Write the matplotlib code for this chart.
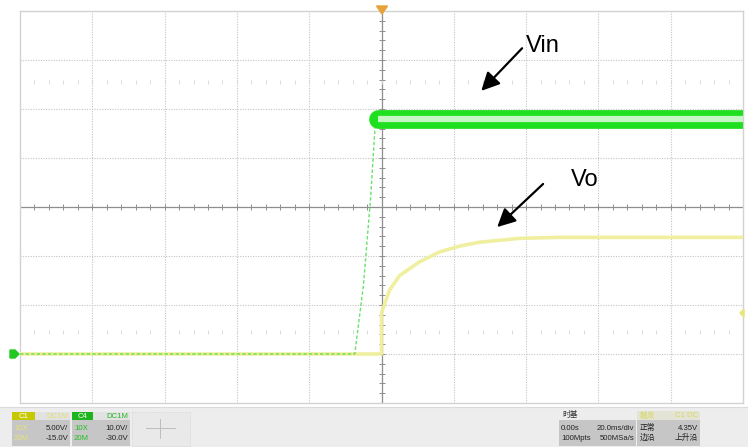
"""Oscilloscope capture: Vin step (C4) and Vo response (C1)."""
import matplotlib
matplotlib.use("Agg")
import matplotlib.pyplot as plt
import numpy as np
from matplotlib.patches import Rectangle, Polygon

plt.rcParams["font.family"] = ["Liberation Sans", "Noto Sans CJK SC", "DejaVu Sans"]

# ---------------------------------------------------------------- data
TIME_DIV_MS = 20.0          # 20.0 ms/div, 10 divisions
C1_SCALE, C1_OFFSET = 5.0, -15.0    # Vo channel
C4_SCALE, C4_OFFSET = 10.0, -30.0   # Vin channel

# Vin (C4), ms / V
vin_t = [-100.0, -7.4, -5.0, -3.0, -1.6, -1.2, -0.6]
vin_v = [0.0, 0.0, 14.0, 32.0, 48.5, 49.4, 48.6]
vin_flat_t = [-1.0, 100.0]
vin_flat_v = [48.0, 48.0]

# Vo (C1), ms / V
vo_t = [-100.0, 0.0, 0.0, 2.2, 5.0, 10.5, 16.0, 21.5, 27.0, 32.6, 38.1, 49.1, 100.0]
vo_v = [0.0, 0.0, 4.2, 6.5, 8.0, 9.4, 10.4, 11.0, 11.4, 11.6, 11.8, 11.9, 11.9]

TRIG_LEVEL = 4.35


def c1(v):
    return (np.asarray(v) + C1_OFFSET) / C1_SCALE


def c4(v):
    return (np.asarray(v) + C4_OFFSET) / C4_SCALE


W, H = 748, 447
fig = plt.figure(figsize=(W / 100, H / 100), dpi=100)

# screen area in pixels
L, R, T, B = 20.0, 743.0, 11.0, 403.0
ax = fig.add_axes([L / W, 1 - B / H, (R - L) / W, (B - T) / H])
ax.set_xlim(-5 * TIME_DIV_MS, 5 * TIME_DIV_MS)
ax.set_ylim(-4, 4)
ax.set_xticks([])
ax.set_yticks([])
for s in ax.spines.values():
    s.set_color("#D2D2D2")
    s.set_linewidth(1.0)

GRID = "#C4C4C4"
for k in range(-4, 5):
    if k != 0:
        ax.axvline(k * TIME_DIV_MS, color=GRID, lw=0.8, ls=(0, (1, 1.3)), zorder=1)
for k in range(-3, 4):
    if k != 0:
        ax.axhline(k, color=GRID, lw=0.8, ls=(0, (1, 1.3)), zorder=1)

# centre cross with minor ticks
AX_C = "#8E8E8E"
ax.axhline(0, color=AX_C, lw=0.9, zorder=1)
ax.axvline(0, color=AX_C, lw=0.9, zorder=1)
xt = np.arange(-100, 100.1, TIME_DIV_MS / 5)
ax.plot(xt, np.zeros_like(xt), ls="none", marker="|", ms=5, mew=0.7, color=AX_C, zorder=1)
yt = np.arange(-4, 4.01, 0.2)
ax.plot(np.zeros_like(yt), yt, ls="none", marker="_", ms=5, mew=0.7, color=AX_C, zorder=1)

# faint dot rows
for yy in (2.55, -2.55):
    ax.plot(xt, np.full_like(xt, yy), ls="none", marker="|", ms=2.5, mew=0.6,
            color="#D6D6D6", zorder=1)

# traces
YEL = "#EFEF9A"
GRN = "#1FE01F"
ax.plot(vo_t, c1(vo_v), color=YEL, lw=2.6, alpha=0.95, zorder=3,
        solid_capstyle="butt", solid_joinstyle="round")
ax.plot(vin_t, c4(vin_v), color="#39D839", lw=1.0, ls=(0, (2.5, 1.5)), alpha=0.75, zorder=4)
ax.plot(vin_flat_t, c4(vin_flat_v), color=GRN, lw=13.5, zorder=4, solid_capstyle="round")
ax.plot(vin_flat_t, c4(vin_flat_v), color="#C4F7C4", lw=4.5, zorder=5, solid_capstyle="butt")

# annotations
arrow = dict(arrowstyle="-|>,head_length=1.1,head_width=0.55", color="black", lw=1.6,
             shrinkA=0, shrinkB=0)
ax.annotate("", xy=(27.6, 2.37), xytext=(38.9, 3.24), arrowprops=arrow, zorder=6)
ax.text(40.0, 3.29, "Vin", fontsize=17, ha="left", va="center", zorder=6)
ax.annotate("", xy=(32.0, -0.41), xytext=(44.7, 0.47), arrowprops=arrow, zorder=6)
ax.text(52.5, 0.55, "Vo", fontsize=17, ha="left", va="center", zorder=6)

# ------------------------------------------------------------ overlay (pixels)
ov = fig.add_axes([0, 0, 1, 1], zorder=10)
ov.set_xlim(0, W)
ov.set_ylim(H, 0)
ov.axis("off")
ov.patch.set_alpha(0)

# trigger position marker (top) and channel markers
ov.add_patch(Polygon([(376.5, 6), (387.5, 6), (382, 14)], closed=True, color="#E8A23A"))
ov.add_patch(Polygon([(10, 350), (15, 350), (19, 354), (15, 358), (10, 358)],
                     closed=True, color="#22C822"))
ov.add_patch(Polygon([(744, 309), (740, 313), (744, 317)], closed=True, color="#E6E67A"))

# status bar
ov.add_patch(Rectangle((0, 407), W, 40, color="#EDEDED", lw=0))
ov.plot([0, W], [407, 407], color="#DADADA", lw=0.8)

FS = 5.6
def box(x0, x1, y0, y1, c):
    ov.add_patch(Rectangle((x0, y0), x1 - x0, y1 - y0, color=c, lw=0))

# C1 block
box(12, 70, 412, 420, "#E2E2E2")
box(12, 35, 412, 420, "#C8C800")
box(12, 70, 420, 446, "#C6C6C6")
ov.text(23.5, 416, "C1", fontsize=FS, color="white", ha="center", va="center")
ov.text(68, 416, "DC1M", fontsize=FS, color="#E0E070", ha="right", va="center")
ov.text(14, 428, "10X", fontsize=FS, color="#E4E47A", ha="left", va="center")
ov.text(68, 428, "5.00V/", fontsize=FS, color="#222222", ha="right", va="center")
ov.text(14, 438, "20M", fontsize=FS, color="#E4E47A", ha="left", va="center")
ov.text(68, 438, "-15.0V", fontsize=FS, color="#222222", ha="right", va="center")

# C4 block
box(72, 130, 412, 420, "#E2E2E2")
box(72, 93, 412, 420, "#1DB51D")
box(72, 130, 420, 446, "#C6C6C6")
ov.text(82.5, 416, "C4", fontsize=FS, color="white", ha="center", va="center")
ov.text(128, 416, "DC1M", fontsize=FS, color="#22B822", ha="right", va="center")
ov.text(74, 428, "10X", fontsize=FS, color="#22C022", ha="left", va="center")
ov.text(128, 428, "10.0V/", fontsize=FS, color="#222222", ha="right", va="center")
ov.text(74, 438, "20M", fontsize=FS, color="#22C022", ha="left", va="center")
ov.text(128, 438, "-30.0V", fontsize=FS, color="#222222", ha="right", va="center")

# empty add-channel block
ov.add_patch(Rectangle((132, 412), 58, 34, facecolor="#E9E9E9", edgecolor="#CFCFCF",
                       lw=0.6, ls=":"))
ov.plot([146, 175], [428, 428], color="#BDBDBD", lw=0.7)
ov.plot([160.5, 160.5], [419, 438], color="#BDBDBD", lw=0.7)

# timebase block
ov.text(562, 415.5, "时基", fontsize=FS, color="#333333", ha="left", va="center",
        family=["Noto Sans CJK SC", "DejaVu Sans"])
box(559, 636, 420, 446, "#C6C6C6")
ov.text(561, 428, "0.00s", fontsize=FS, color="#222222", ha="left", va="center")
ov.text(634, 428, "20.0ms/div", fontsize=FS, color="#222222", ha="right", va="center")
ov.text(561, 438, "100Mpts", fontsize=FS, color="#222222", ha="left", va="center")
ov.text(634, 438, "500MSa/s", fontsize=FS, color="#222222", ha="right", va="center")

# trigger block
box(637, 700, 411, 420, "#E4E4D6")
ov.text(640, 415.5, "触发", fontsize=FS, color="#D8D860", ha="left", va="center",
        family=["Noto Sans CJK SC", "DejaVu Sans"])
ov.text(698, 415.5, "C1 DC", fontsize=FS, color="#D8D860", ha="right", va="center")
box(637, 700, 420, 446, "#C6C6C6")
ov.text(640, 428, "正常", fontsize=FS, color="#222222", ha="left", va="center",
        family=["Noto Sans CJK SC", "DejaVu Sans"])
ov.text(698, 428, "4.35V", fontsize=FS, color="#222222", ha="right", va="center")
ov.text(640, 438, "边沿", fontsize=FS, color="#222222", ha="left", va="center",
        family=["Noto Sans CJK SC", "DejaVu Sans"])
ov.text(698, 438, "上升沿", fontsize=FS, color="#222222", ha="right", va="center",
        family=["Noto Sans CJK SC", "DejaVu Sans"])

fig.savefig("out.png", dpi=100)
